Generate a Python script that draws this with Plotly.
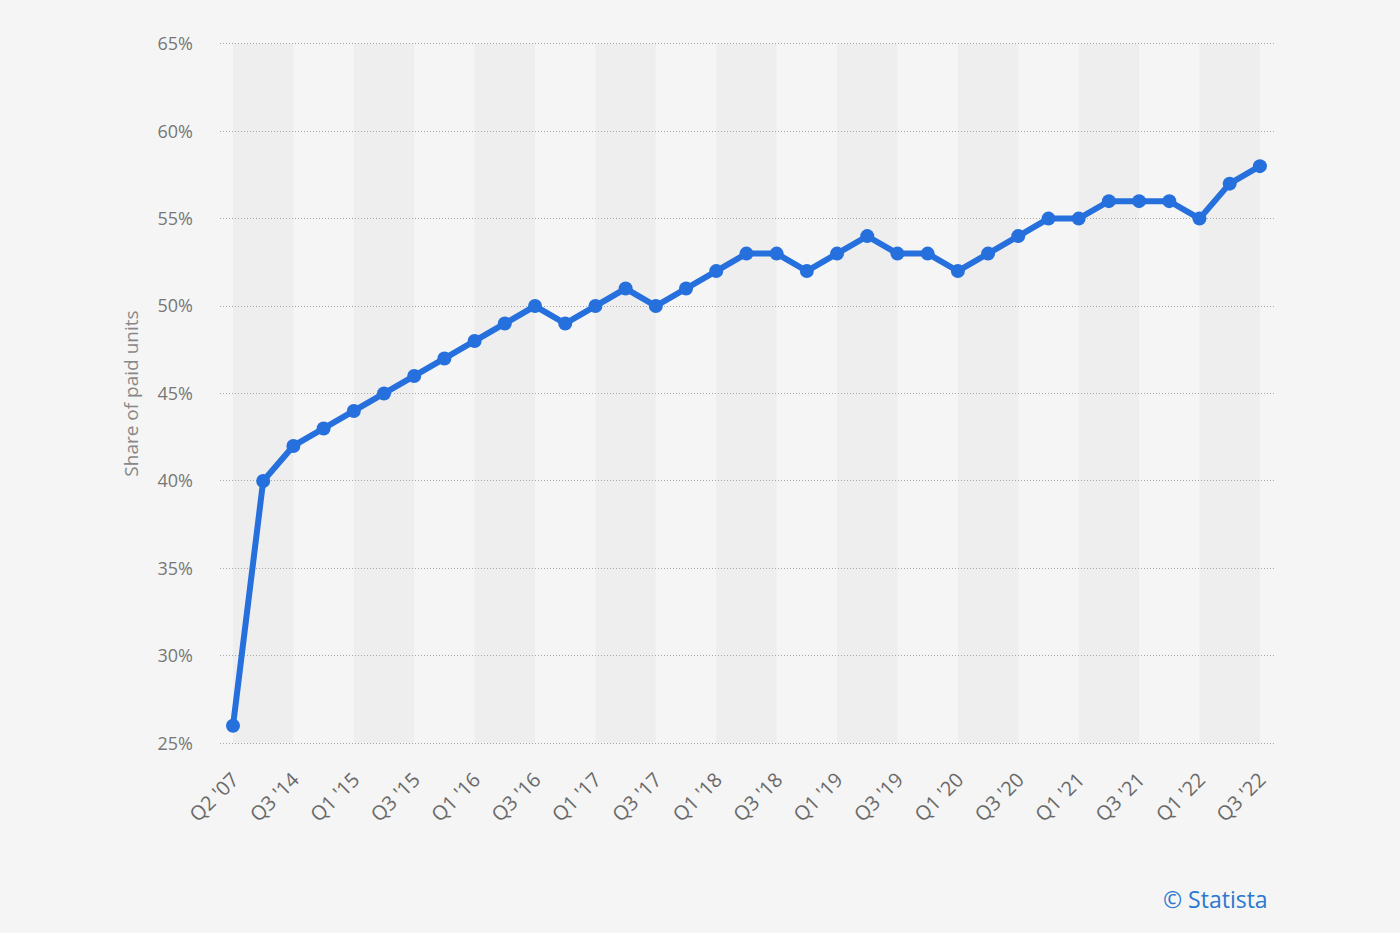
import plotly.graph_objects as go

quarters = ["Q2 '07", "Q2 '14", "Q3 '14", "Q4 '14", "Q1 '15", "Q2 '15", "Q3 '15", "Q4 '15",
            "Q1 '16", "Q2 '16", "Q3 '16", "Q4 '16", "Q1 '17", "Q2 '17", "Q3 '17", "Q4 '17",
            "Q1 '18", "Q2 '18", "Q3 '18", "Q4 '18", "Q1 '19", "Q2 '19", "Q3 '19", "Q4 '19",
            "Q1 '20", "Q2 '20", "Q3 '20", "Q4 '20", "Q1 '21", "Q2 '21", "Q3 '21", "Q4 '21",
            "Q1 '22", "Q2 '22", "Q3 '22"]
share = [26, 40, 42, 43, 44, 45, 46, 47,
         48, 49, 50, 49, 50, 51, 50, 51,
         52, 53, 53, 52, 53, 54, 53, 53,
         52, 53, 54, 55, 55, 56, 56, 56,
         55, 57, 58]
y_ticks = [25, 30, 35, 40, 45, 50, 55, 60, 65]
y_tick_text = [f"{v}%" for v in y_ticks]

tick_idx = [i for i in range(len(quarters)) if i % 2 == 0]
tick_labels = [quarters[i] for i in tick_idx]

BG = "#f5f5f5"
fig = go.Figure()

shapes = []
for start in range(0, len(quarters) - 1, 4):
    shapes.append(dict(type="rect", xref="x", yref="y", x0=start, x1=start + 2,
                       y0=y_ticks[0], y1=y_ticks[-1], fillcolor="#eeeeee",
                       line_width=0, layer="below"))

fig.add_trace(go.Scatter(
    x=list(range(len(quarters))), y=share, mode="lines+markers",
    line=dict(color="#2670dd", width=6),
    marker=dict(color="#2670dd", size=14),
    hoverinfo="skip", showlegend=False,
))

fig.update_layout(
    width=1400, height=933,
    paper_bgcolor=BG, plot_bgcolor=BG,
    margin=dict(l=220, r=125, t=42, b=188),
    font=dict(family="Open Sans, Noto Sans, sans-serif", color="#777"),
    shapes=shapes,
    xaxis=dict(
        range=[-0.43, 34.5], tickmode="array", tickvals=tick_idx, ticktext=tick_labels,
        tickangle=-45, showgrid=False, zeroline=False, showline=False,
        tickfont=dict(size=20, color="#6a6a6a"), ticks="", ticklabelstandoff=18,
    ),
    yaxis=dict(
        range=[24.9, 65.1], tickmode="array", tickvals=y_ticks, ticktext=y_tick_text,
        showgrid=True, gridcolor="#a8a8a8", griddash="1px,2px", gridwidth=1,
        zeroline=False, showline=False, ticks="", ticklabelstandoff=26,
        tickfont=dict(size=18, color="#777"),
        title=dict(text="Share of paid units", font=dict(size=19, color="#888"), standoff=13),
    ),
)
fig.add_annotation(text="© Statista", xref="paper", yref="paper", x=0.9953, y=-0.219,
                   xanchor="right", yanchor="middle", showarrow=False,
                   font=dict(size=23, color="#2a78d0"))

fig.write_html("out.html", config={"displayModeBar": False}, post_script=(
    "document.body.style.margin='0';document.body.style.background='%s';" % BG))
